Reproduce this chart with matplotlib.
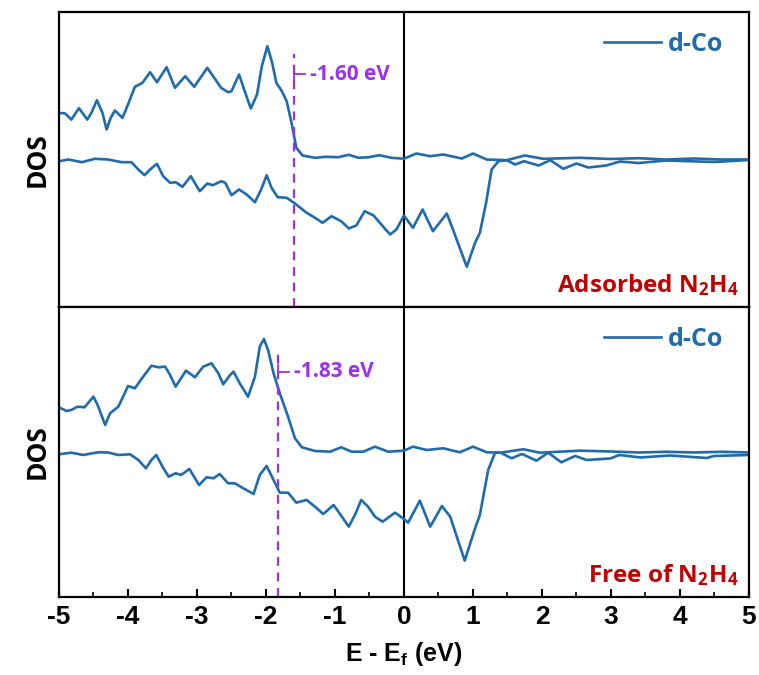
import matplotlib
matplotlib.use("Agg")
import matplotlib.pyplot as plt
import numpy as np

plt.rcParams['mathtext.default'] = 'regular'
plt.rcParams['axes.unicode_minus'] = False

# ---- d-band DOS of Co with N2H4 adsorbed: spin up ----
ads_up_e = [-5.00, -4.91, -4.82, -4.71, -4.59, -4.53, -4.45, -4.37, -4.31, -4.25, -4.19, -4.08,
            -4.00, -3.90, -3.79, -3.68, -3.58, -3.44, -3.32, -3.17, -3.04, -2.85, -2.65, -2.55,
            -2.50, -2.39, -2.30, -2.22, -2.13, -2.06, -1.98, -1.91, -1.85, -1.77, -1.70, -1.63,
            -1.56, -1.47, -1.29, -1.14, -0.95, -0.80, -0.66, -0.51, -0.36, -0.18, 0.00, 0.18,
            0.38, 0.57, 0.84, 1.00, 1.20, 1.49, 1.75, 2.02, 2.55, 3.00, 3.40, 3.80, 4.20,
            4.60, 5.00]
ads_up = [4.72, 4.65, 4.05, 5.18, 4.05, 4.72, 5.98, 4.72, 3.05, 4.22, 4.95, 4.22,
          5.55, 7.32, 7.72, 8.78, 7.78, 9.28, 7.22, 8.38, 7.32, 9.22, 7.22, 6.78,
          6.88, 8.55, 6.72, 5.15, 6.55, 9.38, 11.38, 9.72, 7.72, 6.88, 5.88, 3.72,
          1.22, 0.45, 0.22, 0.32, 0.28, 0.52, 0.22, 0.28, 0.48, 0.22, 0.13, 0.65,
          0.38, 0.55, 0.15, 0.65, 0.05, -0.02, 0.45, 0.12, 0.22, 0.10, 0.18, 0.05, 0.15,
          0.05, 0.05]

# ---- spin down ----
ads_dn_e = [-5.00, -4.86, -4.67, -4.48, -4.29, -4.09, -3.95, -3.85, -3.76, -3.68, -3.58, -3.49,
            -3.39, -3.31, -3.21, -3.09, -2.96, -2.85, -2.77, -2.65, -2.59, -2.50, -2.39, -2.28,
            -2.16, -2.07, -1.99, -1.92, -1.83, -1.70, -1.58, -1.41, -1.29, -1.18, -1.05, -0.91,
            -0.80, -0.69, -0.57, -0.44, -0.32, -0.20, -0.11, 0.00, 0.13, 0.27, 0.42, 0.62,
            0.71, 0.91, 1.03, 1.10, 1.19, 1.27, 1.37, 1.49, 1.61, 1.74, 1.95, 2.12, 2.31,
            2.50, 2.67, 2.93, 3.13, 3.40, 3.80, 4.50, 5.00]
ads_dn = [-0.12, 0.05, -0.22, 0.12, 0.05, -0.22, -0.22, -0.95, -1.52, -0.95, -0.38, -1.62,
          -2.28, -2.22, -2.68, -1.62, -3.12, -2.35, -2.52, -2.12, -2.28, -3.52, -2.95, -3.45,
          -4.22, -2.95, -1.52, -2.78, -3.72, -3.78, -4.35, -5.28, -5.78, -6.28, -5.62, -6.12,
          -6.85, -6.55, -5.12, -5.55, -6.52, -7.45, -6.95, -5.55, -6.78, -4.95, -7.12, -5.35,
          -6.95, -10.68, -8.28, -7.28, -4.28, -0.95, -0.12, -0.02, -0.45, -0.12, -0.55, -0.02, -0.88,
          -0.35, -0.75, -0.55, -0.15, -0.30, -0.05, -0.20, 0.00]

# ---- d-band DOS of Co free of N2H4: spin up ----
free_up_e = [-5.00, -4.89, -4.82, -4.73, -4.63, -4.50, -4.44, -4.33, -4.26, -4.14, -4.07, -4.00,
             -3.90, -3.78, -3.66, -3.56, -3.46, -3.39, -3.31, -3.16, -3.03, -2.91, -2.79, -2.69,
             -2.62, -2.52, -2.47, -2.38, -2.26, -2.16, -2.09, -2.03, -1.97, -1.89, -1.80, -1.68,
             -1.58, -1.48, -1.29, -1.07, -0.91, -0.76, -0.59, -0.42, -0.23, 0.00, 0.13, 0.33,
             0.57, 0.81, 1.00, 1.20, 1.40, 1.73, 1.97, 2.55, 3.00, 3.40, 3.80, 4.20, 4.60, 5.00]
free_up = [4.57, 4.2, 4.3, 4.63, 4.57, 5.63, 4.8, 2.8, 3.97, 4.63, 5.63, 6.7,
           6.47, 7.63, 8.73, 8.57, 8.63, 7.8, 6.63, 8.23, 7.57, 8.63, 8.97, 7.97,
           6.87, 7.8, 8.13, 6.97, 5.63, 7.63, 10.63, 11.4, 10.3, 7.97, 5.97, 3.63,
           1.47, 0.57, 0.2, 0.13, 0.57, 0.13, 0.13, 0.63, 0.13, 0.23, 0.63, 0.3,
           0.47, 0.07, 0.63, 0.07, 0.03, 0.37, 0.03, 0.23, 0.15, 0.05, 0.12, 0.05, 0.12, 0.05]

# ---- spin down ----
free_dn_e = [-5.00, -4.82, -4.65, -4.43, -4.29, -4.14, -3.97, -3.85, -3.74, -3.66, -3.59, -3.50,
             -3.41, -3.31, -3.23, -3.11, -2.97, -2.86, -2.76, -2.67, -2.55, -2.45, -2.33, -2.18,
             -2.09, -1.99, -1.89, -1.80, -1.68, -1.56, -1.41, -1.29, -1.17, -1.02, -0.90, -0.80,
             -0.70, -0.62, -0.52, -0.42, -0.31, -0.13, 0.00, 0.06, 0.23, 0.38, 0.55, 0.67,
             0.88, 1.03, 1.10, 1.22, 1.32, 1.40, 1.56, 1.71, 1.92, 2.09, 2.28, 2.48, 2.65,
             2.99, 3.12, 3.43, 3.85, 4.39, 4.49, 5.00]
free_dn = [-0.13, 0.03, -0.2, 0.07, 0.05, -0.2, -0.13, -0.7, -1.53, -0.7, -0.2, -1.37,
           -2.37, -2.03, -2.2, -1.6, -3.2, -2.43, -2.53, -2.1, -3.03, -3.03, -3.53, -4.1,
           -2.2, -1.3, -2.7, -3.97, -3.97, -4.97, -4.7, -5.37, -6.1, -5.2, -6.37, -7.37,
           -6.03, -4.7, -5.37, -6.37, -6.87, -5.97, -6.6, -6.97, -4.77, -7.37, -5.3, -6.37,
           -10.77, -7.53, -6.2, -1.7, 0.03, 0.03, -0.53, -0.1, -0.77, 0.03, -0.93, -0.3, -0.7,
           -0.55, -0.2, -0.45, -0.25, -0.5, -0.3, -0.2]

# d-band centres (eV)
centres = [-1.60, -1.83]
centre_labels = ["-1.60 eV", "-1.83 eV"]
panel_titles = ["Adsorbed N$_2$H$_4$", "Free of N$_2$H$_4$"]
xticks = [-5, -4, -3, -2, -1, 0, 1, 2, 3, 4, 5]

blue = "#1f6bab"
purple = "#9b30ee"
red = "#c00000"
txt_font = ["Open Sans", "DejaVu Sans"]
num_font = ["Liberation Sans Narrow", "Liberation Sans", "DejaVu Sans"]

fig = plt.figure(figsize=(7.59, 6.75), dpi=100)
ax_top = fig.add_axes([0.0777, 0.5452, 0.9091, 0.4370])
ax_bot = fig.add_axes([0.0777, 0.1156, 0.9091, 0.4296], sharex=ax_top)

panels = [
    (ax_top, ads_up_e, ads_up, ads_dn_e, ads_dn, (-14.7, 14.8), 10.6),
    (ax_bot, free_up_e, free_up, free_dn_e, free_dn, (-14.4, 14.6), 10.1),
]

for i, (ax, ue, uv, de, dv, ylim, dash_top) in enumerate(panels):
    ax.plot(ue, uv, color=blue, lw=1.9, label="d-Co", solid_joinstyle="round")
    ax.plot(de, dv, color=blue, lw=1.9, solid_joinstyle="round")
    ax.axvline(0, color="black", lw=1.5, zorder=1)
    ax.set_xlim(-5, 5)
    ax.set_ylim(*ylim)
    ax.set_yticks([])
    for s in ax.spines.values():
        s.set_linewidth(1.6)

    c = centres[i]
    ax.plot([c, c], [ylim[0], dash_top], color=purple, lw=1.6, ls=(0, (4, 3)))
    yb = dash_top - 2.0
    ax.plot([c, c], [yb - 0.65, yb + 0.65], color=purple, lw=1.3)
    ax.plot([c, c + 0.17], [yb, yb], color=purple, lw=1.3)
    ax.text(c + 0.24, yb, centre_labels[i], color=purple, fontsize=15,
            fontweight="bold", family=txt_font, va="center", ha="left")

    ax.text(0.985, 0.03, panel_titles[i], transform=ax.transAxes, color=red,
            fontsize=17.5, fontweight="bold", family=txt_font, ha="right", va="bottom")

    leg = ax.legend(loc="upper right", bbox_to_anchor=(0.995, 1.01), frameon=False,
                    handlelength=2.3, handletextpad=0.25,
                    prop={"family": txt_font, "weight": "bold", "size": 18})
    for t in leg.get_texts():
        t.set_color(blue)

    ax.set_ylabel("DOS", fontsize=19, fontweight="bold", family=txt_font, labelpad=6)

ax_top.tick_params(axis="x", which="both", bottom=False, labelbottom=False)

ax_bot.set_xticks(xticks)
ax_bot.set_xticks(np.arange(-4.5, 5, 1.0), minor=True)
ax_bot.tick_params(axis="x", which="major", direction="in", length=6, width=1.5, pad=6)
ax_bot.tick_params(axis="x", which="minor", direction="in", length=3.5, width=1.2)
for lab in ax_bot.get_xticklabels():
    lab.set_fontfamily(num_font)
    lab.set_fontweight("bold")
    lab.set_fontsize(19)
ax_bot.set_xlabel("E - E$_f$ (eV)", fontsize=18, fontweight="bold", family=num_font, labelpad=8)

fig.savefig("out.png", dpi=100, facecolor="white")
